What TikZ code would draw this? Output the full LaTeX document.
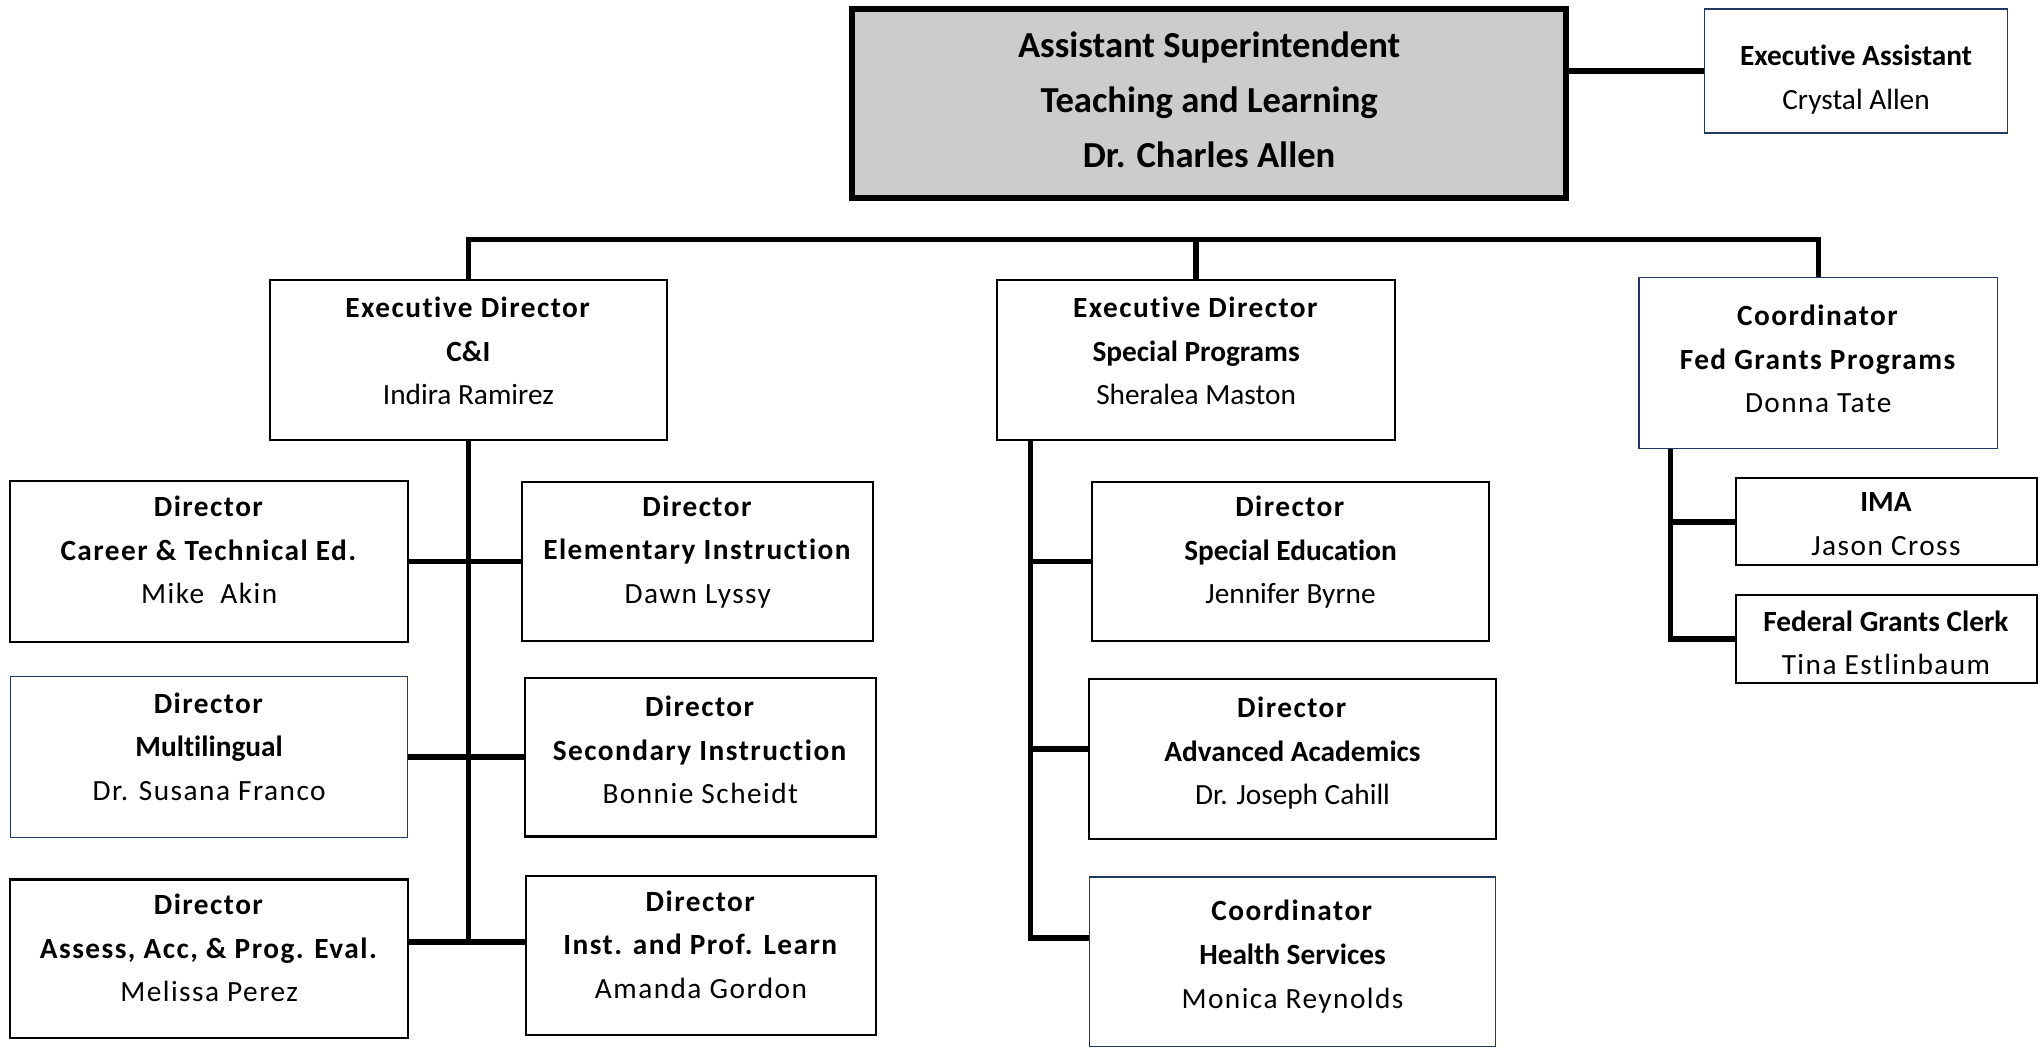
\documentclass[tikz,border=0pt]{standalone}
\usepackage{fontspec}
\setmainfont{Carlito}[Ligatures=NoCommon]
\usetikzlibrary{calc}
\definecolor{navy}{RGB}{31,56,100}
\newcommand{\lsp}[1]{{\addfontfeature{LetterSpace=5}#1}}
\newcommand{\dn}[1]{\rule[-#1]{0pt}{#1}}
\newcommand{\upr}[1]{\rule{0pt}{#1}}

\begin{document}
\begin{tikzpicture}
    [x=0.25mm, y=-0.25mm,
    bsty/.style={draw=black, line width=1.1pt, inner sep=0pt, align=center, font=\fontsize{16}{23.8}\selectfont},
    nsty/.style={bsty, draw=navy, line width=0.7pt},
    tsty/.style={draw=black, line width=3.3pt, fill=black!20, inner sep=0pt, align=center, font=\fontsize{20}{30.2}\selectfont\bfseries},
    lsty/.style={line width=3pt}]
    \useasboundingbox (0,0) rectangle (1568,808);
    % nodes
    \node[tsty, minimum width=137mm, minimum height=36.25mm] (sup) at (928,79.5) {Assistant Superintendent\\Teaching and Learning\\Dr. Charles Allen\dn{4.5pt}};
    \node[nsty, minimum width=58.25mm, minimum height=23.75mm] (ea) at (1424.5,54.5) {\upr{20.5pt}\textbf{Executive Assistant}\\Crystal Allen};
    \node[bsty, minimum width=76.25mm, minimum height=30.75mm] (cni) at (359.5,276.5) {\textbf{\lsp{Executive Director}}\\\textbf{C\&I}\\Indira Ramirez\dn{10pt}};
    \node[bsty, minimum width=76.5mm, minimum height=30.75mm] (esp) at (918,276.5) {\textbf{\lsp{Executive Director}}\\\textbf{Special Programs}\\Sheralea Maston\dn{10pt}};
    \node[nsty, minimum width=68.75mm, minimum height=32.75mm] (cfg) at (1395.5,278.5) {\textbf{\lsp{Coordinator}}\\\textbf{\lsp{Fed Grants\ Programs}}\\\lsp{Donna Tate}\dn{4.5pt}};
    \node[bsty, minimum width=76.25mm, minimum height=30.75mm] (cte) at (160.5,431) {\textbf{\lsp{Director}}\\\textbf{\lsp{Career \& Technical Ed.}}\\\lsp{Mike\ \ Akin}\dn{12.8pt}};
    \node[bsty, minimum width=67.25mm, minimum height=30.5mm] (ele) at (535.5,431) {\textbf{\lsp{Director}}\\\textbf{\lsp{Elementary Instruction}}\\\lsp{Dawn Lyssy}\dn{13pt}};
    \node[nsty, minimum width=76.25mm, minimum height=31mm] (mul) at (160.5,581) {\textbf{\lsp{Director}}\\\textbf{Multilingual}\\\lsp{Dr. Susana Franco}\dn{11.4pt}};
    \node[bsty, minimum width=67.25mm, minimum height=30.5mm] (sec) at (537.5,581) {\textbf{\lsp{Director}}\\\textbf{\lsp{Secondary Instruction}}\\\lsp{Bonnie Scheidt}\dn{7.8pt}};
    \node[bsty, minimum width=76.25mm, minimum height=30.5mm] (aap) at (160.5,736) {\textbf{\lsp{Director}}\\\textbf{\lsp{Assess, Acc, \& Prog. Eval.}}\\\lsp{Melissa Perez}\dn{12pt}};
    \node[bsty, minimum width=67mm, minimum height=30.5mm] (ipl) at (538,733) {\textbf{\lsp{Director}}\\\textbf{\lsp{Inst. and Prof. Learn}}\\\lsp{Amanda Gordon}\dn{11.4pt}};
    \node[bsty, minimum width=76.25mm, minimum height=30.5mm] (sed) at (990.5,431) {\textbf{\lsp{Director}}\\\textbf{Special Education}\\Jennifer Byrne\dn{12.6pt}};
    \node[bsty, minimum width=78mm, minimum height=30.75mm] (aac) at (992,582.5) {\textbf{\lsp{Director}}\\\textbf{Advanced Academics}\\Dr. Joseph Cahill\dn{8.8pt}};
    \node[nsty, minimum width=78mm, minimum height=32.5mm] (hsv) at (992,738) {\textbf{\lsp{Coordinator}}\\\textbf{Health Services}\\\lsp{Monica Reynolds}\dn{8pt}};
    \node[bsty, minimum width=57.75mm, minimum height=16.75mm] (ima) at (1447.5,400.5) {\upr{13pt}\textbf{IMA}\\\lsp{Jason Cross}};
    \node[bsty, minimum width=57.75mm, minimum height=16.75mm] (fgc) at (1447.5,490.5) {\upr{15.5pt}\textbf{Federal Grants Clerk}\\\lsp{Tina Estlinbaum}};
    % lines
    \coordinate (bus) at (0,184);
    \coordinate (ci3) at (359.5,723);
    \coordinate (sp2) at (791,575);
    \coordinate (sp3) at (791,720);
    \coordinate (fgx) at (1282,0);
    \draw[lsty] (ea.west) -- (ea.west -| sup.east);
    \draw[lsty] (cni.north) -- (cni.north |- bus) -- (cfg.north |- bus) -- (cfg.north);
    \draw[lsty] (esp.north) -- (esp.north |- bus);
    \draw[lsty] (cni.south) -- (ci3);
    \draw[lsty] (cte.east) -- (ele.west);
    \draw[lsty] (mul.east) -- (sec.west);
    \draw[lsty] (aap.east |- ci3) -- (ipl.west |- ci3);
    \draw[lsty] (esp.south -| sp3) -- (sp3) -- (hsv.west |- sp3);
    \draw[lsty] (sed.west) -- (sed.west -| sp3);
    \draw[lsty] (sp2) -- (aac.west |- sp2);
    \draw[lsty] (cfg.south -| fgx) |- (fgc.west);
    \draw[lsty] (ima.west) -- (ima.west -| fgx);
\end{tikzpicture}
\end{document}
